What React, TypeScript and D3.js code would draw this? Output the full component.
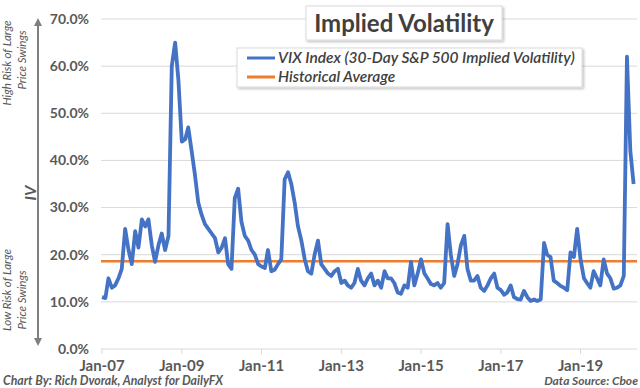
import * as d3 from 'd3'

// Monthly VIX readings (%), Jan 2007 .. May 2020
const startYear = 2007
const vix2007 = [11.0, 10.8, 15.0, 13.0, 13.5, 15.0, 17.0, 25.5, 21.0, 18.0, 25.0, 21.5]
const vix2008 = [27.5, 26.0, 27.5, 22.0, 18.5, 22.0, 24.5, 21.0, 24.0, 60.0, 65.0, 57.0]
const vix2009 = [44.0, 44.5, 47.0, 42.0, 37.0, 31.0, 28.5, 26.5, 25.5, 24.5, 23.5, 20.5]
const vix2010 = [21.5, 23.5, 18.0, 17.0, 32.0, 34.0, 27.0, 24.0, 23.0, 21.0, 20.0, 18.0]
const vix2011 = [17.5, 17.2, 21.0, 16.5, 16.8, 18.0, 19.0, 36.0, 37.5, 35.0, 31.0, 26.0]
const vix2012 = [23.0, 19.0, 16.5, 16.0, 20.0, 23.0, 18.0, 17.0, 16.0, 15.5, 16.5, 17.0]
const vix2013 = [14.0, 14.5, 13.5, 13.0, 14.0, 17.0, 14.5, 13.5, 15.0, 16.0, 13.5, 14.5]
const vix2014 = [13.0, 16.5, 15.0, 15.0, 14.0, 12.0, 11.7, 13.5, 13.0, 18.5, 13.5, 16.0]
const vix2015 = [19.0, 16.0, 15.0, 13.8, 13.5, 14.0, 13.0, 14.0, 26.5, 20.0, 15.5, 18.0]
const vix2016 = [22.0, 24.0, 17.0, 14.5, 14.5, 15.5, 13.0, 12.3, 13.5, 15.0, 16.0, 13.0]
const vix2017 = [12.5, 11.5, 12.0, 13.5, 11.0, 10.6, 10.5, 12.3, 11.0, 10.2, 10.5, 10.2]
const vix2018 = [10.5, 22.5, 20.0, 19.5, 14.5, 14.0, 13.4, 13.0, 12.5, 20.5, 19.5, 25.5]
const vix2019 = [19.0, 15.0, 14.0, 13.0, 16.5, 15.0, 13.5, 19.0, 16.0, 15.0, 12.8, 13.0]
const vix2020 = [13.5, 15.5, 62.0, 42.0, 35.0]
const historicalAverage = 18.6

const yTicks = [0, 10, 20, 30, 40, 50, 60, 70]
const xTickYears = [2007, 2009, 2011, 2013, 2015, 2017, 2019]

const title = 'Implied Volatility'
const legendLabels = ['VIX Index (30-Day S&P 500 Implied Volatility)', 'Historical Average']
const colors = ['#4472C4', '#ED7D31']

const allYears = [vix2007, vix2008, vix2009, vix2010, vix2011, vix2012, vix2013, vix2014, vix2015, vix2016, vix2017, vix2018, vix2019, vix2020]
const series = allYears.flatMap((vals, yi) =>
  vals.map((v, m) => ({ date: new Date(startYear + yi, m, 1), value: v }))
)

const width = 640
const height = 388
const font = 'Lato, "Open Sans", sans-serif'
const textGray = '#595959'

export default function App() {
  const x = d3
    .scaleTime()
    .domain([new Date(2007, 0, 1), new Date(2020, 5, 1)])
    .range([102, 637])
  const y = d3.scaleLinear().domain([0, 70]).range([349, 19])

  const line = d3
    .line<{ date: Date; value: number }>()
    .x(d => x(d.date))
    .y(d => y(d.value))

  const fmt = d3.timeFormat('%b-%y')

  return (
    <svg
      width={width}
      height={height}
      style={{ position: 'absolute', left: 0, top: 0, display: 'block', background: '#fff', fontFamily: font }}
    >
      <defs>
        <marker id="ah" viewBox="0 0 10 10" refX="5" refY="5" markerWidth="4" markerHeight="4" orient="auto-start-reverse">
          <path d="M0,0 L10,5 L0,10 z" fill="#7f7f7f" />
        </marker>
        <filter id="sh" x="-5%" y="-10%" width="110%" height="130%">
          <feDropShadow dx="1.5" dy="1.5" stdDeviation="1.2" floodColor="#000" floodOpacity="0.25" />
        </filter>
      </defs>

      {/* grid */}
      {yTicks.map(t => (
        <line key={t} x1={101} x2={637} y1={y(t)} y2={y(t)} stroke="#d9d9d9" strokeWidth={1} />
      ))}
      {xTickYears.map(yr => (
        <line key={yr} x1={x(new Date(yr, 0, 1))} x2={x(new Date(yr, 0, 1))} y1={y(0)} y2={y(0) + 5} stroke="#d9d9d9" />
      ))}

      {/* y labels */}
      {yTicks.map(t => (
        <text key={t} x={89} y={y(t)} dy="0.35em" textAnchor="end" fontSize={14} fontWeight={700} fill={textGray}>
          {t.toFixed(1)}%
        </text>
      ))}
      {/* x labels */}
      {xTickYears.map(yr => (
        <text key={yr} x={x(new Date(yr, 0, 1))} y={366} dy="0.35em" textAnchor="middle" fontSize={15} fontWeight={700} fill={textGray}>
          {fmt(new Date(yr, 0, 1))}
        </text>
      ))}

      {/* series */}
      <line x1={101} x2={637} y1={y(historicalAverage)} y2={y(historicalAverage)} stroke={colors[1]} strokeWidth={2.5} />
      <path d={line(series) ?? ''} fill="none" stroke={colors[0]} strokeWidth={3.8} strokeLinejoin="round" />

      {/* left arrow annotation */}
      <line x1={38} x2={38} y1={22} y2={342} stroke="#7f7f7f" strokeWidth={2} markerStart="url(#ah)" markerEnd="url(#ah)" />
      <text transform="translate(30,193) rotate(-90)" textAnchor="middle" dy="0.35em" fontSize={16} fontWeight={700} fontStyle="italic" fill={textGray}>
        IV
      </text>
      <g fontSize={11.5} fontStyle="italic" fill={textGray} textAnchor="middle">
        <text transform="translate(11,63) rotate(-90)">High Risk of Large</text>
        <text transform="translate(26,60) rotate(-90)">Price Swings</text>
        <text transform="translate(11,290) rotate(-90)">Low Risk of Large</text>
        <text transform="translate(26,300) rotate(-90)">Price Swings</text>
      </g>

      {/* title */}
      <rect x={306} y={6} width={196} height={34} fill="#fff" stroke="#d9d9d9" filter="url(#sh)" />
      <text x={404} y={32} textAnchor="middle" fontSize={24} fontWeight={700} fill="#404040">
        {title}
      </text>

      {/* legend */}
      <rect x={237} y={48} width={345} height={39} fill="#fff" stroke="#d9d9d9" filter="url(#sh)" />
      {legendLabels.map((lab, i) => (
        <g key={lab}>
          <line x1={247} x2={275} y1={58 + i * 19} y2={58 + i * 19} stroke={colors[i]} strokeWidth={3} />
          <text x={278} y={58 + i * 19} dy="0.35em" fontSize={15.5} fontWeight={600} fontStyle="italic" fill="#404040">
            {lab}
          </text>
        </g>
      ))}

      {/* footer */}
      <text x={3} y={381} dy="0.35em" fontSize={12.3} fontWeight={700} fontStyle="italic" fill={textGray}>
        Chart By: Rich Dvorak, Analyst for DailyFX
      </text>
      <text x={638} y={381} dy="0.35em" textAnchor="end" fontSize={12} fontWeight={700} fontStyle="italic" fill={textGray}>
        Data Source: Cboe
      </text>
    </svg>
  )
}
